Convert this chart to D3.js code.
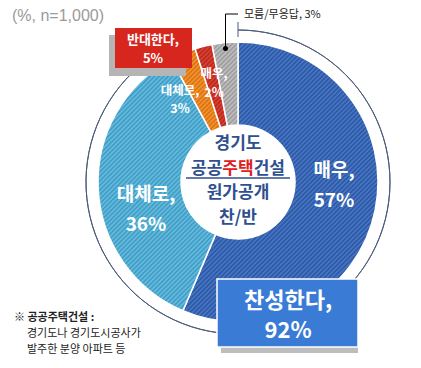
<!DOCTYPE html>
<html><head><meta charset="utf-8">
<script src="https://cdn.jsdelivr.net/npm/d3@7"></script>
<style>body{margin:0;background:#fff}svg{display:block}text{font-family:"Noto Sans CJK KR","Noto Sans",sans-serif}</style>
</head><body>
<script>
const categories = ["매우 찬성","대체로 찬성","대체로 반대","매우 반대","모름/무응답"];
const values = [57, 36, 3, 2, 3];
const baseColors = ["#4575c6","#62bbdd","#f3912e","#db3f2f","#bdbdbd"];
const stripeColors = ["#2c559c","#3f98c2","#d9700f","#b3271d","#999999"];
const agreeTotal = 92, disagreeTotal = 5, dkTotal = 3;

const W = 421, H = 368;
const cx = 238, cy = 182, R = 140, r0 = 57, Rline = 152;
const svg = d3.select("body").append("svg").attr("width", W).attr("height", H);
const defs = svg.append("defs");
baseColors.forEach((c, i) => {
  const p = defs.append("pattern").attr("id", "pat" + i).attr("patternUnits", "userSpaceOnUse")
    .attr("width", 3.2).attr("height", 3.2).attr("patternTransform", "rotate(45)");
  p.append("rect").attr("width", 3.2).attr("height", 3.2).attr("fill", c);
  p.append("rect").attr("width", 1.4).attr("height", 3.2).attr("fill", stripeColors[i]);
});

svg.append("text").attr("x", 12).attr("y", 21).attr("font-size", 16).attr("fill", "#9a9a9a")
  .style("font-family", "Arial, 'Liberation Sans', sans-serif").text("(%, n=1,000)");

const g = svg.append("g").attr("transform", `translate(${cx},${cy})`);
const pie = d3.pie().sort(null).value(d => d);
const arcs = pie(values);
const arc = d3.arc().innerRadius(r0).outerRadius(R);
g.selectAll("path.slice").data(arcs).enter().append("path").attr("class", "slice")
  .attr("d", arc).attr("fill", (d, i) => `url(#pat${i})`).attr("stroke", "#fff").attr("stroke-width", 1.5);

// outer thin arc for 찬성
const total = d3.sum(values);
const agreeEnd = 2 * Math.PI * (agreeTotal + 1.5) / total;
g.append("path").attr("d", d3.arc().innerRadius(Rline).outerRadius(Rline)({startAngle: 0, endAngle: agreeEnd}))
  .attr("fill", "none").attr("stroke", "#4b5a78").attr("stroke-width", 1);
g.append("line").attr("x1", 0).attr("x2", 0).attr("y1", -Rline - 8).attr("y2", -Rline + 7)
  .attr("stroke", "#4b5a78").attr("stroke-width", 1);

// center text
const ct = g.append("g").attr("font-weight", "bold").attr("font-size", 17).attr("fill", "#2f4f8f").attr("text-anchor", "middle");
ct.append("text").attr("y", -33).text("경기도");
const l2 = ct.append("text").attr("y", -8);
l2.append("tspan").text("공공");
l2.append("tspan").attr("fill", "#e0201c").text("주택");
l2.append("tspan").text("건설");
ct.append("line").attr("x1", -52).attr("x2", 52).attr("y1", -4).attr("y2", -4).attr("stroke", "#2f4f8f").attr("stroke-width", 1.5);
ct.append("text").attr("y", 16).text("원가공개");
ct.append("text").attr("y", 41).text("찬/반");

// slice labels
const lab = svg.append("g").attr("fill", "#fff").attr("font-weight", "bold").attr("text-anchor", "middle");
function twoLine(x, y, a, b, fs, gap) {
  lab.append("text").attr("x", x).attr("y", y).attr("font-size", fs).text(a);
  lab.append("text").attr("x", x).attr("y", y + gap).attr("font-size", fs).text(b);
}
twoLine(334, 177, "매우,", values[0] + "%", 19, 30);
twoLine(146, 201, "대체로,", values[1] + "%", 19, 30);
twoLine(180, 95, "대체로,", values[2] + "%", 12.5, 18);
twoLine(214, 78, "매우,", values[3] + "%", 12.5, 19);

// 모름 annotation
const dkAng = (arcs[4].startAngle + arcs[4].endAngle) / 2;
const dx = Math.sin(dkAng) * (R - 6) + cx, dy = -Math.cos(dkAng) * (R - 6) + cy;
svg.append("path").attr("d", `M${dx},${dy}V14H${cx}`).attr("fill", "none").attr("stroke", "#000").attr("stroke-width", 1);
svg.append("circle").attr("cx", dx).attr("cy", dy).attr("r", 2.5).attr("fill", "#000");
svg.append("text").attr("x", cx + 6).attr("y", 18).attr("font-size", 11).attr("fill", "#222").text("모름/무응답, " + dkTotal + "%");

// 반대 box
svg.append("rect").attr("x", 109).attr("y", 35).attr("width", 77).attr("height", 41).attr("fill", "#b5b5b5");
svg.append("rect").attr("x", 115).attr("y", 28).attr("width", 77).attr("height", 40).attr("fill", "#d7261e");
svg.append("text").attr("x", 153).attr("y", 44).attr("text-anchor", "middle").attr("font-size", 13).attr("font-weight", "bold").attr("fill", "#fff").text("반대한다,");
svg.append("text").attr("x", 153).attr("y", 63).attr("text-anchor", "middle").attr("font-size", 13).attr("font-weight", "bold").attr("fill", "#fff").text(disagreeTotal + "%");

// 찬성 box
svg.append("rect").attr("x", 221).attr("y", 284).attr("width", 137).attr("height", 69).attr("fill", "#bdbdbd");
svg.append("rect").attr("x", 217).attr("y", 279).attr("width", 141).attr("height", 68).attr("fill", "#3a7bd5").attr("stroke", "#fff").attr("stroke-width", 1.5);
svg.append("text").attr("x", 288).attr("y", 308).attr("text-anchor", "middle").attr("font-size", 22).attr("font-weight", "bold").attr("fill", "#fff").text("찬성한다,");
svg.append("text").attr("x", 288).attr("y", 338).attr("text-anchor", "middle").attr("font-size", 22).attr("font-weight", "bold").attr("fill", "#fff").text(agreeTotal + "%");

// footnote
const fn = svg.append("g").attr("font-size", 11).attr("fill", "#222");
fn.append("text").attr("x", 14).attr("y", 321).attr("font-weight", "bold").text("※ 공공주택건설 :");
fn.append("text").attr("x", 27).attr("y", 337).text("경기도나 경기도시공사가");
fn.append("text").attr("x", 27).attr("y", 353).text("발주한 분양 아파트 등");
</script>
</body></html>
